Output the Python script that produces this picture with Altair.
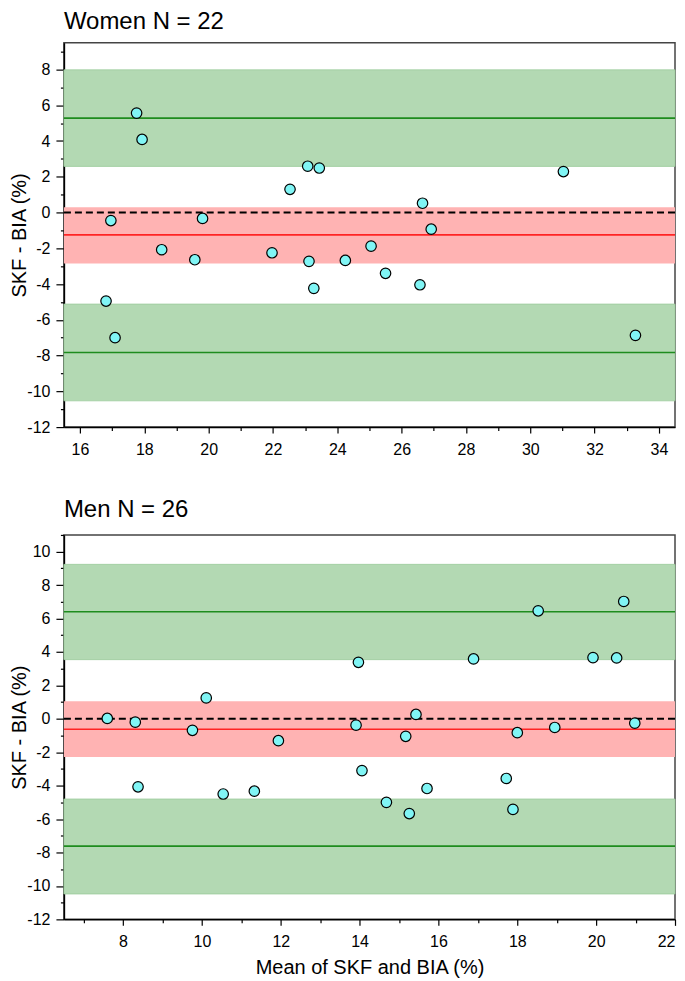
import altair as alt
import pandas as pd

# ---------------- data ----------------
# Women
w_mean = [17.76, 17.93, 23.08, 23.44, 22.53, 31.03, 26.65, 26.92, 16.96, 19.81, 18.54,
          19.57, 21.97, 23.12, 24.25, 25.05, 23.27, 25.50, 26.57, 16.81, 17.09, 33.27]
w_diff = [5.56, 4.09, 2.59, 2.49, 1.30, 2.29, 0.52, -0.93, -0.45, -0.33, -2.08,
          -2.64, -2.25, -2.73, -2.68, -1.88, -4.24, -3.40, -4.04, -4.95, -7.00, -6.87]
w_bias = -1.25
w_bias_ci = [-2.85, 0.30]
w_loa = [5.28, -7.83]
w_loa_lo = [2.58, -10.53]
w_loa_hi = [7.98, -5.12]

# Men
m_mean = [18.53, 20.70, 13.97, 16.89, 19.92, 20.52, 10.11, 7.60, 8.31, 9.76, 11.94, 13.91, 15.17,
          15.43, 18.00, 18.95, 20.98, 8.38, 10.54, 11.33, 14.06, 14.68, 15.26, 15.71, 17.72, 17.89]
m_diff = [6.46, 7.02, 3.38, 3.58, 3.66, 3.64, 1.25, 0.02, -0.20, -0.69, -1.31, -0.38, -1.05,
          0.26, -0.83, -0.52, -0.26, -4.07, -4.50, -4.33, -3.10, -5.00, -5.67, -4.17, -3.57, -5.42]
m_bias = -0.63
m_bias_ci = [-2.28, 1.05]
m_loa = [6.40, -7.62]
m_loa_lo = [3.54, -10.48]
m_loa_hi = [9.24, -4.80]

# axes
w_xdom = [15.5, 34.5]
w_ydom = [-12, 9.5]
w_xmaj = [16, 18, 20, 22, 24, 26, 28, 30, 32, 34]
w_xmin = [17, 19, 21, 23, 25, 27, 29, 31, 33]
w_ymaj = [-12, -10, -8, -6, -4, -2, 0, 2, 4, 6, 8]
w_ymin = [-11, -9, -7, -5, -3, -1, 1, 3, 5, 7, 9]

m_xdom = [6.5, 22]
m_ydom = [-12, 11]
m_xmaj = [8, 10, 12, 14, 16, 18, 20, 22]
m_xmin = [7, 9, 11, 13, 15, 17, 19, 21]
m_ymaj = [-12, -10, -8, -6, -4, -2, 0, 2, 4, 6, 8, 10]
m_ymin = [-11, -9, -7, -5, -3, -1, 1, 3, 5, 7, 9, 11]

FONT = "Liberation Sans"
GREEN_BAND = "#b3d9b3"
RED_BAND = "#ffb3b3"
GREEN_LINE = "#1e8c1e"
RED_LINE = "#ff2424"
CYAN = "#80f5f5"


def panel(title, mean, diff, bias, bias_ci, loa, loa_lo, loa_hi,
          xdom, ydom, xmaj, xmin, ymaj, ymin, xtitle, title_offset):
    pts = pd.DataFrame({"m": mean, "d": diff})
    loa_band = pd.DataFrame({"lo": loa_lo, "hi": loa_hi})
    bias_band = pd.DataFrame({"lo": [bias_ci[0]], "hi": [bias_ci[1]]})
    loa_line = pd.DataFrame({"v": loa})
    bias_line = pd.DataFrame({"v": [bias]})
    zero_line = pd.DataFrame({"v": [0]})

    xs = alt.Scale(domain=xdom, nice=False, zero=False)
    ys = alt.Scale(domain=ydom, nice=False, zero=False)

    band_g = alt.Chart(loa_band).mark_rect(color=GREEN_BAND, stroke="#9ccc9c", strokeWidth=0.8).encode(
        y=alt.Y("lo:Q", scale=ys, axis=None), y2="hi:Q")
    band_r = alt.Chart(bias_band).mark_rect(color=RED_BAND).encode(
        y=alt.Y("lo:Q", scale=ys, axis=None), y2="hi:Q")
    line_g = alt.Chart(loa_line).mark_rule(color=GREEN_LINE, strokeWidth=1.6).encode(
        y=alt.Y("v:Q", scale=ys, axis=None))
    line_r = alt.Chart(bias_line).mark_rule(color=RED_LINE, strokeWidth=1.6).encode(
        y=alt.Y("v:Q", scale=ys, axis=None))
    line_0 = alt.Chart(zero_line).mark_rule(color="black", strokeWidth=2, strokeDash=[7, 4]).encode(
        y=alt.Y("v:Q", scale=ys, axis=None))

    minor = alt.Chart(pts).mark_point(opacity=0).encode(
        x=alt.X("m:Q", scale=xs, axis=alt.Axis(
            orient="bottom", values=xmin, labels=False, domain=False, grid=False,
            tickSize=3.5, tickColor="black", tickWidth=1.2, title=None)),
        y=alt.Y("d:Q", scale=ys, axis=alt.Axis(
            orient="left", values=ymin, labels=False, domain=False, grid=False,
            tickSize=3.5, tickColor="black", tickWidth=1.2, title=None)),
    )

    xaxis_kwargs = dict(
        orient="bottom", values=xmaj, grid=False, tickSize=6, tickColor="black", tickWidth=1.2,
        labelPadding=8, labelFontSize=16, labelFont=FONT, labelColor="black",
        labelExpr="'' + datum.value",
        domainColor="black", domainWidth=1.5,
    )
    if xtitle:
        xaxis_kwargs.update(title=xtitle, titleFontSize=20, titleFont=FONT,
                            titleFontWeight="normal", titleColor="black", titlePadding=8)
    else:
        xaxis_kwargs.update(title=None)

    points = alt.Chart(pts).mark_circle(
        size=110, color=CYAN, opacity=1, stroke="black", strokeWidth=1.2).encode(
        x=alt.X("m:Q", scale=xs, axis=alt.Axis(**xaxis_kwargs)),
        y=alt.Y("d:Q", scale=ys, axis=alt.Axis(
            orient="left", values=ymaj, grid=False, tickSize=8, tickColor="black", tickWidth=1.2,
            labelPadding=6, labelFontSize=16, labelFont=FONT, labelColor="black",
            labelExpr="'' + datum.value",
            domainColor="black", domainWidth=1.5,
            title="SKF - BIA (%)", titleFontSize=20, titleFont=FONT,
            titleFontWeight="normal", titleColor="black", titlePadding=-2.4)),
    )

    return alt.layer(band_g, band_r, line_g, line_r, line_0, minor, points).resolve_axis(
        x="independent", y="independent"
    ).properties(
        width=612, height=385,
        title=alt.TitleParams(title, anchor="start", frame="group", fontSize=24,
                              fontWeight="normal", font=FONT, color="black",
                              offset=title_offset),
    )


top = panel("Women N = 22", w_mean, w_diff, w_bias, w_bias_ci, w_loa, w_loa_lo, w_loa_hi,
            w_xdom, w_ydom, w_xmaj, w_xmin, w_ymaj, w_ymin, None, 9)
bottom = panel("Men N = 26", m_mean, m_diff, m_bias, m_bias_ci, m_loa, m_loa_lo, m_loa_hi,
               m_xdom, m_ydom, m_xmaj, m_xmin, m_ymaj, m_ymin, "Mean of SKF and BIA (%)", 12)

chart = alt.vconcat(top, bottom, spacing=39).configure_view(
    stroke="#444444", strokeWidth=1.5
).properties(background="white", padding=0)

chart.save("out.html", embed_options={"renderer": "svg", "actions": False})
